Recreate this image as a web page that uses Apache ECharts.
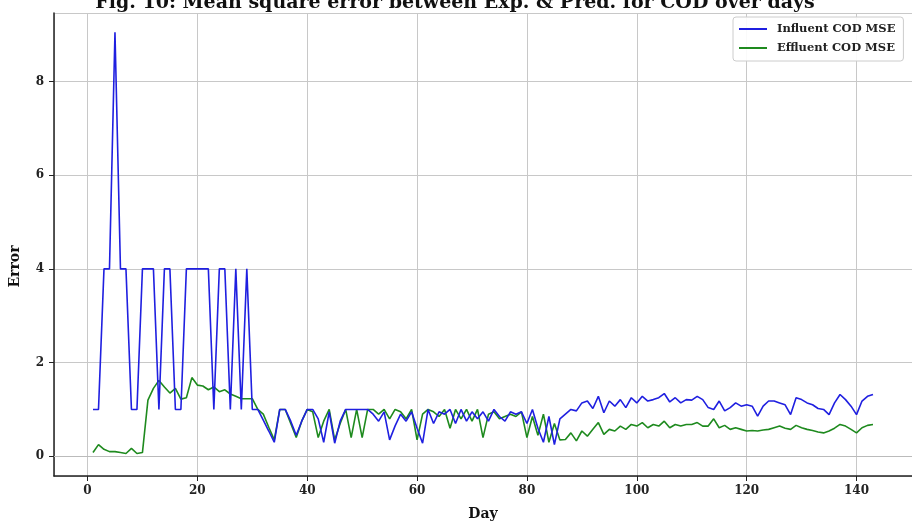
<!DOCTYPE html>
<html>
<head>
<meta charset="utf-8">
<script src="https://cdn.jsdelivr.net/npm/echarts@6/dist/echarts.min.js"></script>
<style>
  html, body { margin: 0; padding: 0; background: #fff; overflow: hidden; }
  #chart { width: 912px; height: 526px; }
</style>
</head>
<body>
<div id="chart"></div>
<script>
// Mean square error per day for influent and effluent COD
const influentMSE = [
  1, 1, 4, 4, 9.05, 4, 4, 1, 1, 4,
  4, 4, 1, 4, 4, 1, 1, 4, 4, 4,
  4, 4, 1, 4, 4, 1, 4, 1, 4, 1.0,
  1.0, 0.77, 0.54, 0.3, 1.0, 1.0, 0.75, 0.45, 0.75, 1.0,
  1.0, 0.8, 0.3, 0.95, 0.28, 0.75, 1.0, 1.0, 1.0, 1.0,
  1.0, 0.9, 0.75, 0.95, 0.35, 0.65, 0.9, 0.75, 0.95, 0.6,
  0.28, 1.0, 0.7, 0.95, 0.9, 1.0, 0.7, 1.0, 0.75, 0.95,
  0.8, 0.95, 0.75, 1.0, 0.85, 0.75, 0.95, 0.9, 0.95, 0.7,
  1.0, 0.6, 0.3, 0.85, 0.25, 0.8, 0.9, 1.0, 0.97, 1.14,
  1.18, 1.02, 1.28, 0.93, 1.18, 1.07, 1.21, 1.04, 1.25, 1.14,
  1.28, 1.18, 1.21, 1.25, 1.34, 1.16, 1.25, 1.14, 1.21, 1.2,
  1.28, 1.21, 1.04, 1.0, 1.18, 0.97, 1.04, 1.14, 1.07, 1.1,
  1.07, 0.86, 1.07, 1.18, 1.18, 1.14, 1.1, 0.89, 1.25, 1.21,
  1.14, 1.1, 1.02, 1.0, 0.89, 1.14, 1.32, 1.21, 1.07, 0.89,
  1.18, 1.28, 1.32
];

const effluentMSE = [
  0.08, 0.25, 0.15, 0.1, 0.1, 0.08, 0.06, 0.17, 0.06, 0.08,
  1.2, 1.45, 1.62, 1.48, 1.35, 1.45, 1.22, 1.25, 1.68, 1.52,
  1.5, 1.42, 1.48, 1.38, 1.42, 1.33, 1.28, 1.23, 1.23, 1.23,
  1.0, 0.9, 0.62, 0.35, 1.0, 1.0, 0.7, 0.4, 0.75, 1.0,
  0.95, 0.4, 0.75, 1.0, 0.35, 0.7, 1.0, 0.4, 1.0, 0.4,
  1.0, 1.0, 0.9, 1.0, 0.8, 1.0, 0.95, 0.8, 1.0, 0.35,
  0.9, 1.0, 0.95, 0.85, 1.0, 0.6, 1.0, 0.8, 1.0, 0.75,
  1.0, 0.4, 0.9, 0.95, 0.8, 0.85, 0.9, 0.85, 0.95, 0.4,
  0.85, 0.45, 0.9, 0.3, 0.7, 0.35, 0.36, 0.5, 0.33, 0.54,
  0.43, 0.575, 0.72, 0.47, 0.575, 0.54, 0.645, 0.575, 0.68, 0.645,
  0.72, 0.61, 0.68, 0.645, 0.75, 0.61, 0.68, 0.645, 0.68, 0.68,
  0.72, 0.645, 0.645, 0.8, 0.61, 0.66, 0.575, 0.61, 0.575, 0.54,
  0.55, 0.54, 0.56, 0.575, 0.61, 0.645, 0.6, 0.575, 0.66, 0.61,
  0.575, 0.55, 0.52, 0.5, 0.54, 0.6, 0.68, 0.645, 0.575, 0.5,
  0.61, 0.66, 0.68
];

// Day numbers start at 1
const days = influentMSE.map((_, i) => i + 1);

const xTickValues = [0, 20, 40, 60, 80, 100, 120, 140];
const yTickValues = [0, 2, 4, 6, 8];

const serif = '"DejaVu Serif", "Liberation Serif", serif';

const chart = echarts.init(document.getElementById('chart'), null, { renderer: 'canvas' });

const toPairs = vals => vals.map((v, i) => [days[i], v]);

const tickFilter = list => (v) => list.some(t => Math.abs(t - v) < 1e-6) ? String(Math.round(v)) : '';

chart.setOption({
  animation: false,
  backgroundColor: '#ffffff',
  title: {
    text: 'Fig. 10: Mean square error between Exp. & Pred. for COD over days',
    left: 450,
    textAlign: 'center',
    top: -11,
    textStyle: { fontFamily: serif, fontWeight: 'bold', fontSize: 19, color: '#111' }
  },
  legend: {
    orient: 'vertical',
    left: 733,
    top: 17,
    itemWidth: 28,
    itemHeight: 2,
    itemGap: 7,
    icon: 'rect',
    padding: [6, 8, 7, 6],
    borderColor: '#cccccc',
    borderWidth: 1,
    borderRadius: 3,
    backgroundColor: 'rgba(255,255,255,0.9)',
    textStyle: {
      fontFamily: serif, fontWeight: 'bold', fontSize: 11.5, color: '#222',
      padding: [0, 0, 0, 5]
    },
    data: ['Influent COD MSE', 'Effluent COD MSE']
  },
  grid: { left: 53, width: 872, top: 13, height: 464, containLabel: false },
  xAxis: [{
    type: 'value',
    min: -6.1,
    max: 150.1,
    splitNumber: 8,
    name: 'Day',
    nameLocation: 'middle',
    nameGap: 31,
    nameTextStyle: { fontFamily: serif, fontWeight: 'bold', fontSize: 14, color: '#111' },
    axisLine: { show: true, onZero: false, lineStyle: { color: '#222', width: 1.5 } },
    axisTick: { show: true, length: 5, lineStyle: { color: '#222' } },
    axisLabel: {
      fontFamily: serif, fontWeight: 'bold', fontSize: 12, color: '#222', margin: 9,
      showMinLabel: false, showMaxLabel: false,
      formatter: tickFilter(xTickValues)
    },
    splitLine: { show: true, lineStyle: { color: '#c8c8c8', width: 1 } }
  }, {
    type: 'value',
    position: 'top',
    min: -6.1,
    max: 150.1,
    axisLine: { show: true, lineStyle: { color: '#bbbbbb', width: 1 } },
    axisTick: { show: false },
    axisLabel: { show: false },
    splitLine: { show: false }
  }],
  yAxis: {
    type: 'value',
    min: -0.42,
    max: 9.46,
    splitNumber: 5,
    name: 'Error',
    nameLocation: 'middle',
    nameGap: 32,
    nameRotate: 90,
    nameTextStyle: {
      fontFamily: serif, fontWeight: 'bold', fontSize: 14, color: '#111',
      padding: [0, 44, 0, 0]
    },
    axisLine: { show: true, onZero: false, lineStyle: { color: '#222', width: 1.5 } },
    axisTick: { show: true, length: 5, lineStyle: { color: '#222' } },
    axisLabel: {
      fontFamily: serif, fontWeight: 'bold', fontSize: 12, color: '#222', margin: 10,
      showMinLabel: false, showMaxLabel: false,
      formatter: tickFilter(yTickValues)
    },
    splitLine: { show: true, lineStyle: { color: '#c8c8c8', width: 1 } }
  },
  series: [{
    name: 'Influent COD MSE',
    type: 'line',
    data: toPairs(influentMSE),
    showSymbol: false,
    lineStyle: { color: '#1f1fe0', width: 1.6 },
    itemStyle: { color: '#1f1fe0' },
    z: 3
  }, {
    name: 'Effluent COD MSE',
    type: 'line',
    data: toPairs(effluentMSE),
    showSymbol: false,
    lineStyle: { color: '#1e8a1e', width: 1.6 },
    itemStyle: { color: '#1e8a1e' },
    z: 2
  }]
});
</script>
</body>
</html>
